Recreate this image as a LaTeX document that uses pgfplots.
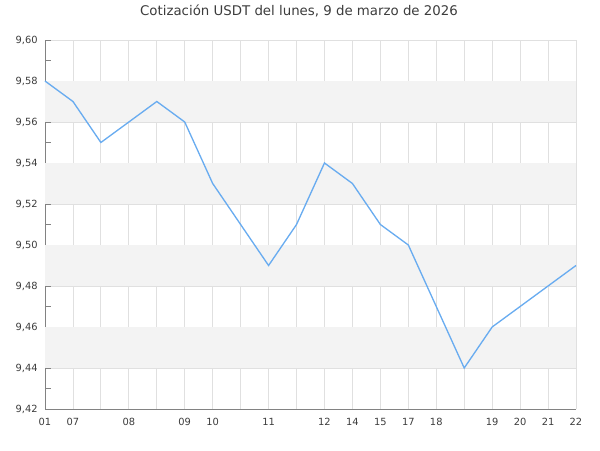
\documentclass[border=0pt]{standalone}
\usepackage{pgfplots}
\pgfplotsset{compat=1.18}
\usepackage{fontspec}
\setmainfont{DejaVu Sans}
\definecolor{linec}{RGB}{105,172,240}
\definecolor{bandc}{RGB}{243,243,243}
\definecolor{gridc}{RGB}{224,224,224}
\definecolor{axisc}{RGB}{130,130,130}
\definecolor{textc}{RGB}{60,60,60}
\begin{document}
\begin{tikzpicture}[x=1pt,y=1pt]
\begin{axis}[
  at={(0,0)}, anchor=south west,
  scale only axis,
  width=398.25pt, height=276.75pt,
  xmin=0, xmax=19, ymin=9.42, ymax=9.60,
  axis lines*=left,
  axis line style={axisc, line width=0.6pt},
  xtick={0,1,3,5,6,8,10,11,12,13,14,16,17,18,19},
  xticklabels={01,07,08,09,10,11,12,14,15,17,18,19,20,21,22},
  minor xtick={0,...,19},
  xtick style={draw=none},
  minor x tick style={draw=none},
  ytick={9.42,9.44,...,9.601},
  minor ytick={9.43,9.45,...,9.60},
  ytick style={axisc, line width=0.6pt},
  minor y tick style={axisc, line width=0.6pt},
  major tick length=4.5pt, minor tick length=4.5pt,
  xmajorgrids, xminorgrids, ymajorgrids,
  major grid style={gridc, line width=0.6pt},
  minor grid style={gridc, line width=0.6pt},
  yticklabel style={/pgf/number format/.cd, use comma, fixed, fixed zerofill, precision=2, /tikz/.cd, font=\fontsize{7.4}{8}\selectfont, text=textc, xshift=-2pt},
  xticklabel style={font=\fontsize{7.4}{8}\selectfont, text=textc, yshift=-3.5pt},
  /pgf/number format/assume math mode=true,
  scaled y ticks=false,
  clip=false,
]
\addplot[fill=bandc, draw=none] coordinates {(0,9.56) (19,9.56) (19,9.58) (0,9.58)} -- cycle;
\addplot[fill=bandc, draw=none] coordinates {(0,9.52) (19,9.52) (19,9.54) (0,9.54)} -- cycle;
\addplot[fill=bandc, draw=none] coordinates {(0,9.48) (19,9.48) (19,9.50) (0,9.50)} -- cycle;
\addplot[fill=bandc, draw=none] coordinates {(0,9.44) (19,9.44) (19,9.46) (0,9.46)} -- cycle;
\addplot[linec, line width=1pt, mark=none] coordinates {
(0,9.58) (1,9.57) (2,9.55) (3,9.56) (4,9.57) (5,9.56) (6,9.53) (7,9.51)
(8,9.49) (9,9.51) (10,9.54) (11,9.53) (12,9.51) (13,9.50) (14,9.47)
(15,9.44) (16,9.46) (17,9.47) (18,9.48) (19,9.49)};
\end{axis}
\node[font=\fontsize{10}{12}\selectfont, text=textc] at (190.5,298.5) {Cotización USDT del lunes, 9 de marzo de 2026};
\pgfresetboundingbox
\path (-33.75,-30.75) rectangle (416.25,306.75);
\end{tikzpicture}
\end{document}
